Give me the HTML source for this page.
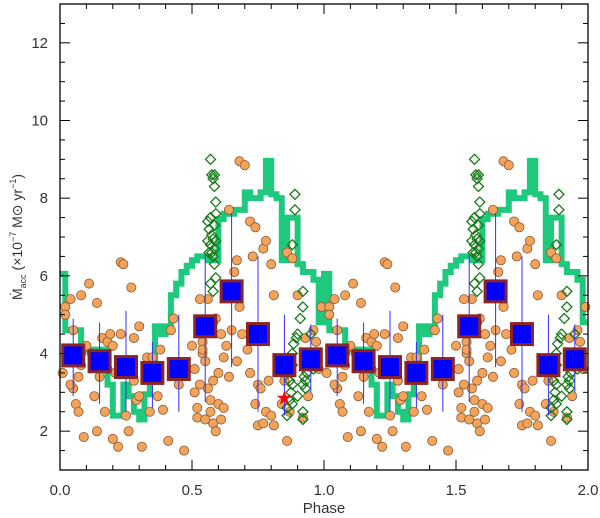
<!DOCTYPE html>
<html><head><meta charset="utf-8"><style>
body{margin:0;background:#fff;}
svg{display:block;font-family:"Liberation Sans",sans-serif;}
</style></head><body>
<svg id="chart" width="600" height="518" viewBox="0 0 600 518"></svg>
<script>
const phasesMean=[0.05,0.15,0.25,0.35,0.45,0.55,0.65,0.75,0.85,0.95];
const meanVals=[3.95,3.8,3.65,3.5,3.6,4.7,5.6,4.5,3.7,3.85];
const errLow=[2.9,2.7,2.5,2.6,2.5,2.75,3.65,2.5,2.4,3.0];
const errHigh=[4.9,4.8,5.1,4.3,5.0,6.55,7.6,6.5,5.0,4.75];
const stepVals=[6.05,4.6,4.6,4.6,4.2,4.1,4.1,4.1,4.1,3.2,2.4,2.4,3.2,2.9,2.5,2.3,2.95,3.5,4.7,4.5,4.7,5.5,5.8,6.1,6.26,6.4,6.5,6.5,6.4,6.4,7.46,7.6,7.6,7.7,7.7,8.15,8.0,8.0,8.15,8.96,8.1,8.0,6.4,7.5,7.5,6.3,6.1,6.1,5.9,4.8];
const dotPhase=[0.01,0.02,0.02,0.04,0.05,0.05,0.06,0.07,0.07,0.08,0.08,0.09,0.1,0.11,0.12,0.13,0.14,0.14,0.15,0.16,0.17,0.18,0.19,0.2,0.21,0.2,0.22,0.23,0.23,0.24,0.25,0.26,0.27,0.28,0.28,0.29,0.3,0.3,0.31,0.33,0.34,0.35,0.37,0.38,0.39,0.41,0.42,0.43,0.45,0.47,0.5,0.51,0.51,0.52,0.52,0.53,0.54,0.54,0.55,0.56,0.56,0.57,0.57,0.58,0.58,0.59,0.59,0.6,0.6,0.61,0.61,0.62,0.62,0.55,0.54,0.53,0.58,0.63,0.64,0.64,0.65,0.66,0.67,0.67,0.68,0.68,0.69,0.7,0.71,0.72,0.72,0.73,0.74,0.74,0.75,0.75,0.76,0.77,0.77,0.78,0.78,0.79,0.8,0.8,0.81,0.81,0.84,0.85,0.86,0.86,0.87,0.88,0.9,0.92,0.93,0.94,0.96,0.97,0.98,0.99,0.16,0.18,0.08,0.04];
const dotVals=[3.5,5.2,5.0,5.4,4.6,3.1,2.7,3.4,2.5,5.5,3.7,1.85,4.2,5.8,4.0,2.9,2.0,5.3,3.4,4.4,2.5,4.3,4.5,4.2,3.5,1.8,1.6,4.5,6.35,6.3,2.4,2.0,5.7,4.4,3.3,2.8,2.9,4.7,1.6,3.9,2.5,3.9,2.9,4.1,2.55,1.75,4.6,4.9,3.2,1.5,4.2,3.6,3.0,2.35,2.6,3.2,4.0,4.3,3.8,3.1,5.4,2.8,2.5,3.3,2.2,2.0,4.9,3.5,2.7,4.5,2.3,2.6,3.9,2.3,4.1,5.4,4.8,4.2,3.4,7.7,4.6,6.1,3.8,6.4,5.2,8.95,4.5,8.85,4.1,3.5,7.4,6.5,7.25,2.7,2.15,3.2,3.1,2.2,6.7,2.5,6.9,3.3,2.4,6.3,5.5,2.15,2.7,3.3,6.6,1.75,2.5,6.45,5.5,2.35,4.4,2.9,4.6,4.3,3.6,5.2,3.8,3.6,4.0,3.2];
const diaPhase=[0.57,0.575,0.58,0.585,0.585,0.59,0.56,0.565,0.57,0.575,0.58,0.585,0.59,0.57,0.575,0.58,0.585,0.59,0.56,0.565,0.57,0.58,0.59,0.585,0.89,0.89,0.88,0.92,0.92,0.91,0.9,0.895,0.885,0.88,0.88,0.875,0.87,0.88,0.875,0.87,0.88,0.86,0.86,0.9,0.92,0.93,0.925,0.93,0.935,0.92,0.92,0.95,0.97,0.96];
const diaVals=[9.0,8.6,8.5,8.3,8.6,7.9,7.4,7.2,7.5,7.05,6.95,7.3,7.6,6.8,6.6,6.5,6.7,6.9,6.9,6.6,5.8,5.6,5.95,6.3,8.1,7.7,6.8,5.6,5.2,4.9,4.5,4.4,4.25,4.0,3.7,3.5,3.3,3.2,3.0,2.8,2.7,2.6,2.4,2.9,3.2,3.3,3.4,3.1,3.5,2.5,2.3,4.5,3.8,3.6];
const starPoint=[0.85,2.85];
const xTicks=["0.0","0.5","1.0","1.5","2.0"];
const yTicks=["2","4","6","8","10","12"];

const L=60,R=588,T=4,B=470;
const X=p=>L+(p/2)*(R-L);
const Y=v=>B-(v-1)/12*(B-T);
const svg=document.getElementById('chart');
const NS='http://www.w3.org/2000/svg';
function mk(tag,attrs,parent){const e=document.createElementNS(NS,tag);for(const k in attrs)e.setAttribute(k,attrs[k]);(parent||svg).appendChild(e);return e;}

const binW=1/stepVals.length;
let d='';
for(let rep=0;rep<2;rep++){
  stepVals.forEach((v,i)=>{
    const p0=rep+i*binW,p1=p0+binW;
    d+=(d?'L':'M')+X(p0)+','+Y(v)+'L'+X(p1)+','+Y(v);
  });
}
const step=mk('path',{d:d,fill:'none',stroke:'#1ec87c','stroke-width':6});



for(let rep=0;rep<2;rep++){
  dotPhase.forEach((p,i)=>{
    const c=mk('circle',{cx:X(p+rep),cy:Y(dotVals[i]),r:4.6,fill:'#f4a35a',stroke:'#8a5a35','stroke-width':0.8});
    
    
  });
}
for(let rep=0;rep<2;rep++){
  diaPhase.forEach((p,i)=>{
    const x=X(p+rep),y=Y(diaVals[i]);
    const g=mk('path',{d:`M${x},${y-5}L${x+5},${y}L${x},${y+5}L${x-5},${y}Z`,fill:'none',stroke:'#1a7a1a','stroke-width':1.3});
    
    
  });
}
for(let rep=0;rep<2;rep++){
  phasesMean.forEach((p,i)=>{
    const x=X(p+rep);
    const e=mk('line',{x1:x,x2:x,y1:Y(errLow[i]),y2:Y(errHigh[i]),stroke:'#3030ff','stroke-width':1});
    
    
  });
  phasesMean.forEach((p,i)=>{
    const x=X(p+rep),y=Y(meanVals[i]);
    const s=mk('rect',{x:x-10.5,y:y-10.5,width:21,height:21,fill:'#0000ff',stroke:'#8b2525','stroke-width':3});
    
    
  });
}
(function(){
  const cx=X(starPoint[0]),cy=Y(starPoint[1]);let pts=[];
  for(let k=0;k<10;k++){const r=k%2?3:8,a=-Math.PI/2+k*Math.PI/5;pts.push((cx+r*Math.cos(a)).toFixed(1)+','+(cy+r*Math.sin(a)).toFixed(1));}
  const st=mk('polygon',{points:pts.join(' '),fill:'#ff0000'});
  
  
})();

const fr=mk('rect',{x:L,y:T,width:R-L,height:B-T,fill:'none',stroke:'#000','stroke-width':1.3});


for(let k=0;k<=20;k++){
  const x=X(k*0.1),len=k%5===0?10:5;
  mk('line',{x1:x,x2:x,y1:B,y2:B-len,stroke:'#000'});
  mk('line',{x1:x,x2:x,y1:T,y2:T+len,stroke:'#000'});
}
xTicks.forEach((t,i)=>{
  const tx=mk('text',{x:X(i*0.5),y:B+25,'text-anchor':'middle','font-size':15,fill:'#333'});
  tx.textContent=t;
  
  
});
for(let v=1.5;v<=13;v+=0.5){
  const y=Y(v),len=(v%2===0)?10:5;
  mk('line',{x1:L,x2:L+len,y1:y,y2:y,stroke:'#000'});
  mk('line',{x1:R,x2:R-len,y1:y,y2:y,stroke:'#000'});
}
yTicks.forEach(t=>{
  const ty=mk('text',{x:L-12,y:Y(+t)+5,'text-anchor':'end','font-size':15,fill:'#333'});
  ty.textContent=t;
  
  
});
const xt=mk('text',{x:(L+R)/2,y:513,'text-anchor':'middle','font-size':15,fill:'#333'});
xt.textContent='Phase';


const yt=mk('text',{x:0,y:0,transform:`translate(22,${(T+B)/2}) rotate(-90)`,'text-anchor':'middle','font-size':14,fill:'#333'});
yt.innerHTML='Ṁ<tspan font-size="9" dy="4">acc</tspan><tspan dy="-4"> (×10</tspan><tspan font-size="9" dy="-6">−7</tspan><tspan dy="6"> M⊙ yr</tspan><tspan font-size="9" dy="-6">−1</tspan><tspan dy="6">)</tspan>';


</script>
</body></html>
